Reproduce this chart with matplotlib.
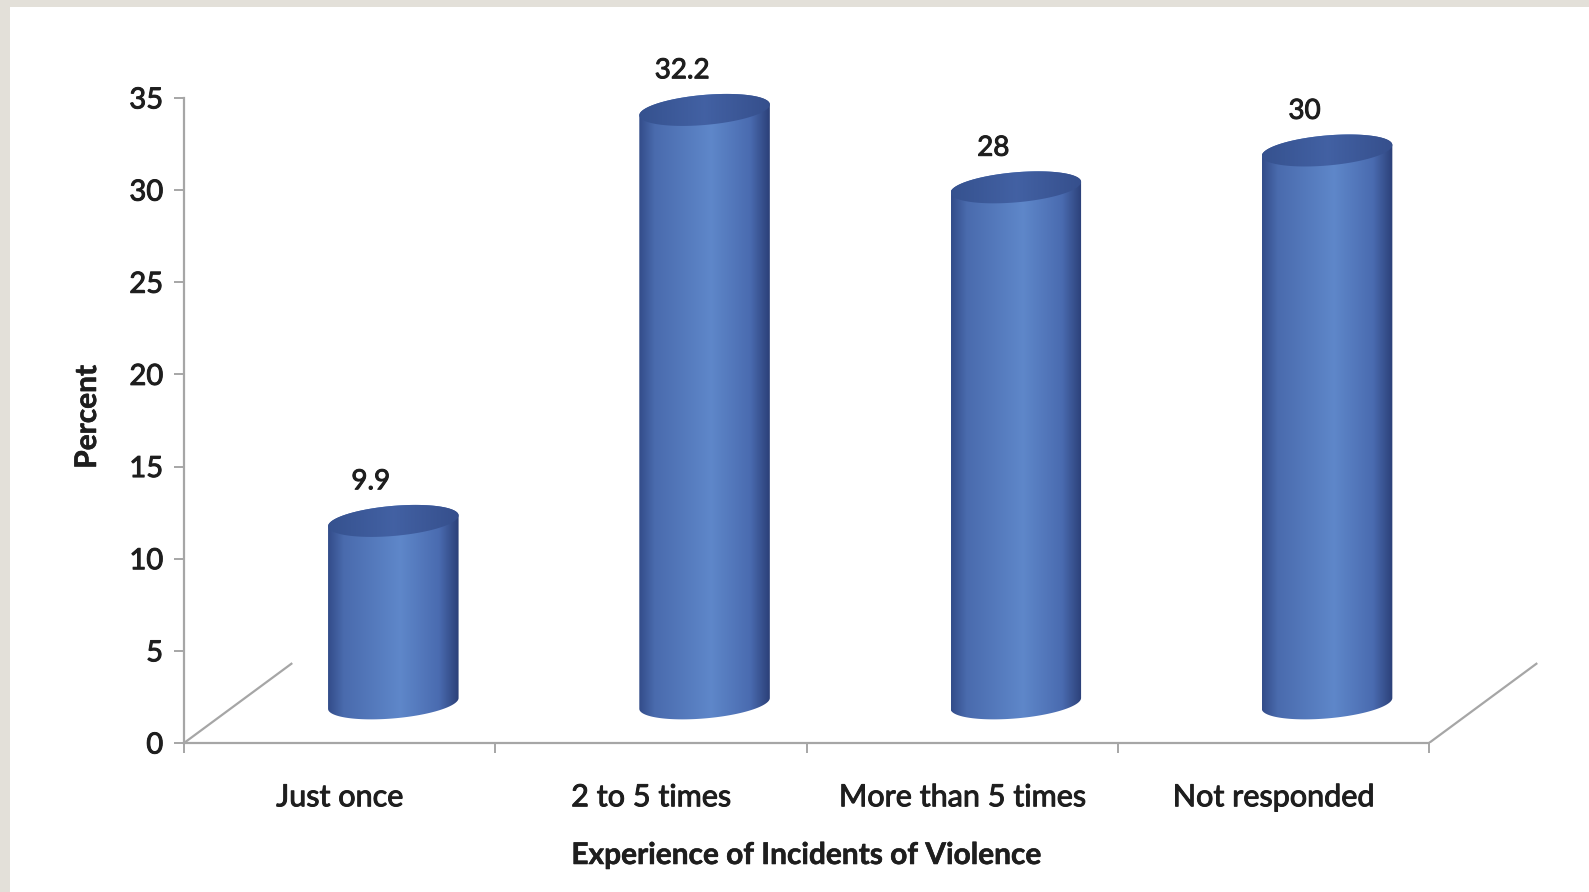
import matplotlib.pyplot as plt
import matplotlib.patheffects as pe
import numpy as np
from matplotlib.colors import LinearSegmentedColormap
from matplotlib.patches import PathPatch, Rectangle
from matplotlib.path import Path

categories = ['Just once', '2 to 5 times', 'More than 5 times', 'Not responded']
percent = [9.9, 32.2, 28, 30]
value_labels = ['9.9', '32.2', '28', '30']
yticks = [0, 5, 10, 15, 20, 25, 30, 35]

plt.rcParams['font.family'] = ['Lato', 'DejaVu Sans']

W, H = 1589, 892
PX = 311.25   # pixels per category
PY = 18.43    # pixels per percent
XMAX, YMAX = 4.4, 38
DX, DY = 0.345, 4.3   # depth of the floor (data units)

fig = plt.figure(figsize=(W / 100, H / 100), dpi=100)
fig.patch.set_facecolor('#e3e0d9')
fig.add_artist(Rectangle((10 / W, 0), 1, (H - 7) / H, transform=fig.transFigure,
                         facecolor='white', edgecolor='none', zorder=0))

ax = fig.add_axes([184 / W, (H - 743) / H, XMAX * PX / W, YMAX * PY / H])
ax.set_facecolor('none')

axis_col = '#a6a6a6'
text_col = '#1e1e1e'
heavy = [pe.withStroke(linewidth=0.7, foreground=text_col)]
heavier = [pe.withStroke(linewidth=0.4, foreground=text_col)]

# floor depth lines
ax.plot([0, DX], [0, DY], color=axis_col, lw=1.6, zorder=1)
ax.plot([4, 4 + DX], [0, DY], color=axis_col, lw=1.6, zorder=1)

side_cmap = LinearSegmentedColormap.from_list('side', [
    (0.0, (0.20, 0.30, 0.54)),
    (0.12, (0.29, 0.42, 0.68)),
    (0.55, (0.37, 0.53, 0.79)),
    (0.85, (0.29, 0.42, 0.69)),
    (1.0, (0.17, 0.25, 0.47)),
])
top_cmap = LinearSegmentedColormap.from_list('top', [
    (0.0, (0.21, 0.32, 0.56)),
    (0.5, (0.26, 0.38, 0.64)),
    (1.0, (0.21, 0.31, 0.55)),
])

a_px, b_px = 65.5, 15.0
theta = np.deg2rad(5)


def ellipse(t):
    x = (a_px * np.cos(t) * np.cos(theta) - b_px * np.sin(t) * np.sin(theta)) / PX
    y = (a_px * np.cos(t) * np.sin(theta) + b_px * np.sin(t) * np.cos(theta)) / PY
    return x, y


t_r = np.arctan(-b_px * np.tan(theta) / a_px)
t_l = t_r + np.pi
t_upper = np.linspace(t_r, t_l, 120)
t_lower = np.linspace(t_l, t_r + 2 * np.pi, 120)
t_full = np.linspace(0, 2 * np.pi, 240)


def gradient_fill(path, cmap, x0, x1, y0, y1, z):
    patch = PathPatch(path, transform=ax.transData, facecolor='none', edgecolor='none')
    ax.add_patch(patch)
    grad = np.linspace(0, 1, 256)[np.newaxis, :]
    im = ax.imshow(grad, extent=(x0, x1, y0, y1), cmap=cmap, aspect='auto',
                   interpolation='bicubic', origin='lower', zorder=z)
    im.set_clip_path(patch)


for i, v in enumerate(percent):
    cx = i + 0.5 + DX / 2
    cy_bot = DY / 2
    cy_top = v + DY / 2
    ux, uy = ellipse(t_upper)
    lx, ly = ellipse(t_lower)
    side_pts = np.vstack([np.column_stack([cx + ux, cy_top + uy]),
                          np.column_stack([cx + lx, cy_bot + ly])])
    side = Path(np.vstack([side_pts, side_pts[:1]]), closed=True)
    fx, fy = ellipse(t_full)
    x0, x1 = cx + fx.min(), cx + fx.max()
    gradient_fill(side, side_cmap, x0, x1, cy_bot - 1.5, cy_top + 1.5, 3)
    top = Path(np.column_stack([cx + fx, cy_top + fy]), closed=True)
    gradient_fill(top, top_cmap, x0, x1, cy_top - 1.5, cy_top + 1.5, 4)
    ax.text(i + 0.5 + 0.1, v + 4.3, value_labels[i], ha='center', va='center',
            fontsize=20, color=text_col, zorder=5, path_effects=heavy)

ax.set_xlim(0, XMAX)
ax.set_ylim(0, YMAX)

for s in ['top', 'right']:
    ax.spines[s].set_visible(False)
for s in ['left', 'bottom']:
    ax.spines[s].set_color(axis_col)
    ax.spines[s].set_linewidth(1.6)
ax.spines['left'].set_bounds(0, 35)
ax.spines['bottom'].set_bounds(0, 4)

ax.set_yticks(yticks)
ax.tick_params(axis='y', direction='out', length=7, width=1.4, color=axis_col,
               labelsize=21, labelcolor=text_col, pad=8)
ax.set_xticks([0, 1, 2, 3, 4])
ax.set_xticklabels([])
ax.set_xticks([0.5, 1.5, 2.5, 3.5], minor=True)
ax.set_xticklabels(categories, minor=True)
ax.tick_params(axis='x', which='major', direction='out', length=7, width=1.4, color=axis_col)
ax.tick_params(axis='x', which='minor', length=0, labelsize=22, labelcolor=text_col, pad=29)
for lab in ax.get_yticklabels() + ax.get_xticklabels(minor=True):
    lab.set_path_effects(heavy)

ax.set_xlabel('Experience of Incidents of Violence', fontsize=21.5, fontweight='bold',
              color=text_col, path_effects=heavier)
ax.xaxis.set_label_coords(2 / XMAX, -98 / (YMAX * PY))
ax.set_ylabel('Percent', fontsize=21.5, fontweight='bold', color=text_col,
              path_effects=heavier)
ax.yaxis.set_label_coords(-83 / (XMAX * PX), 17.7 / YMAX)

fig.savefig('out.png', dpi=100, facecolor=fig.get_facecolor())
